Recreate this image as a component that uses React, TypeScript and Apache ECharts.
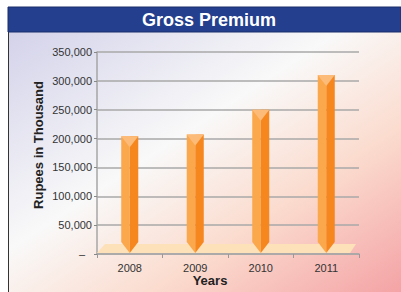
import React, { useEffect, useRef } from "react";
import * as echarts from "echarts";

const years = ["2008", "2009", "2010", "2011"];
const grossPremium = [204000, 207000, 250000, 310000];
const yTicks = { min: 0, max: 350000, interval: 50000 };
const titleText = "Gross Premium";
const yName = "Rupees in Thousand";
const xName = "Years";

export default function App() {
  const ref = useRef<HTMLDivElement>(null);
  useEffect(() => {
    const chart = echarts.init(ref.current!, null, { renderer: "svg" });
    const font = "'Liberation Sans', Arial, Helvetica, sans-serif";
    chart.setOption({
      animation: false,
      textStyle: { fontFamily: font },
      graphic: [
        {
          type: "rect",
          z: -10,
          silent: true,
          shape: { x: 8, y: 32, width: 393, height: 260 },
          style: {
            fill: new echarts.graphic.LinearGradient(0, 0, 1, 1, [
              { offset: 0, color: "#d3d2ea" },
              { offset: 0.42, color: "#f9f9f9" },
              { offset: 0.68, color: "#fbdccf" },
              { offset: 1, color: "#f4a3a5" },
            ]),
          },
        },
        {
          type: "line",
          z: -5,
          silent: true,
          shape: { x1: 8.5, y1: 32, x2: 8.5, y2: 292 },
          style: { stroke: "#333", lineWidth: 1 },
        },
        {
          type: "rect",
          silent: true,
          shape: { x: 8, y: 7, width: 393, height: 25 },
          style: { fill: "#233f8e", stroke: "#1a2f6a", lineWidth: 1 },
        },
        {
          type: "text",
          silent: true,
          x: 209,
          y: 20,
          style: {
            text: titleText,
            fill: "#ffffff",
            font: `bold 18px ${font}`,
            align: "center",
            verticalAlign: "middle",
          },
        },
        {
          type: "text",
          silent: true,
          x: 210,
          y: 280,
          style: {
            text: xName,
            fill: "#222",
            font: `bold 13px ${font}`,
            align: "center",
            verticalAlign: "middle",
          },
        },
        {
          type: "text",
          silent: true,
          x: 38,
          y: 145,
          rotation: Math.PI / 2,
          style: {
            text: yName,
            fill: "#222",
            font: `bold 13px ${font}`,
            align: "center",
            verticalAlign: "middle",
          },
        },
      ],
      grid: { left: 97, right: 42, top: 52, bottom: 38, containLabel: false },
      xAxis: {
        type: "category",
        data: years,
        axisLine: { lineStyle: { color: "#a6a6a6", width: 1.5 } },
        axisTick: { show: true, length: 4, lineStyle: { color: "#999", width: 1 } },
        axisLabel: { color: "#333", fontSize: 11, margin: 8 },
      },
      yAxis: {
        type: "value",
        min: yTicks.min,
        max: yTicks.max,
        interval: yTicks.interval,
        axisLine: { show: true, lineStyle: { color: "#a6a6a6", width: 1.5 } },
        axisTick: { show: true, length: 3, lineStyle: { color: "#888", width: 1 } },
        splitLine: { lineStyle: { color: "#a8a8a8", width: 1.5 } },
        axisLabel: {
          color: "#333",
          fontSize: 11,
          margin: 5,
          formatter: (v: number) =>
            v === 0 ? "{z|–}" : v.toLocaleString("en-US"),
          rich: { z: { fontSize: 11, color: "#333", padding: [0, 7, 0, 0] } },
        },
      },
      series: [
        {
          type: "custom",
          data: grossPremium.map((v, i) => [i, v]),
          encode: { x: 0, y: 1 },
          renderItem: (params: any, api: any) => {
            const idx = api.value(0);
            const val = api.value(1);
            const top = api.coord([idx, val]);
            const base = api.coord([idx, 0]);
            const cw = api.size([1, 0])[0];
            const hw = cw * 0.13;
            const cx = top[0];
            const ty = top[1];
            const by = base[1] - 1;
            const cham = 11;
            const L = cx - hw;
            const R = cx + hw;
            const children: any[] = [];
            if (params.dataIndex === 0) {
              const cs = params.coordSys;
              const gx0 = cs.x;
              const gx1 = cs.x + cs.width;
              children.push({
                type: "polygon",
                shape: {
                  points: [
                    [gx0, by],
                    [gx0 + 8, by - 9],
                    [gx1 - 3, by - 9],
                    [gx1 - 9, by],
                  ],
                },
                style: { fill: "#fde2b9" },
              });
            }
            children.push({
              type: "polygon",
              shape: { points: [[L, ty], [cx, ty], [cx, by], [L, by - cham]] },
              style: { fill: "#fba84d" },
            });
            children.push({
              type: "polygon",
              shape: { points: [[cx, ty], [R, ty], [R, by - cham], [cx, by]] },
              style: { fill: "#f6871f" },
            });
            children.push({
              type: "polygon",
              shape: { points: [[L, ty], [R, ty], [cx, ty + cham]] },
              style: { fill: "#fdbb7a" },
            });
            return { type: "group", children };
          },
        },
      ],
    });
    return () => chart.dispose();
  }, []);
  return (
    <div
      ref={ref}
      style={{ position: "absolute", left: 0, top: 0, width: 401, height: 292 }}
    />
  );
}
